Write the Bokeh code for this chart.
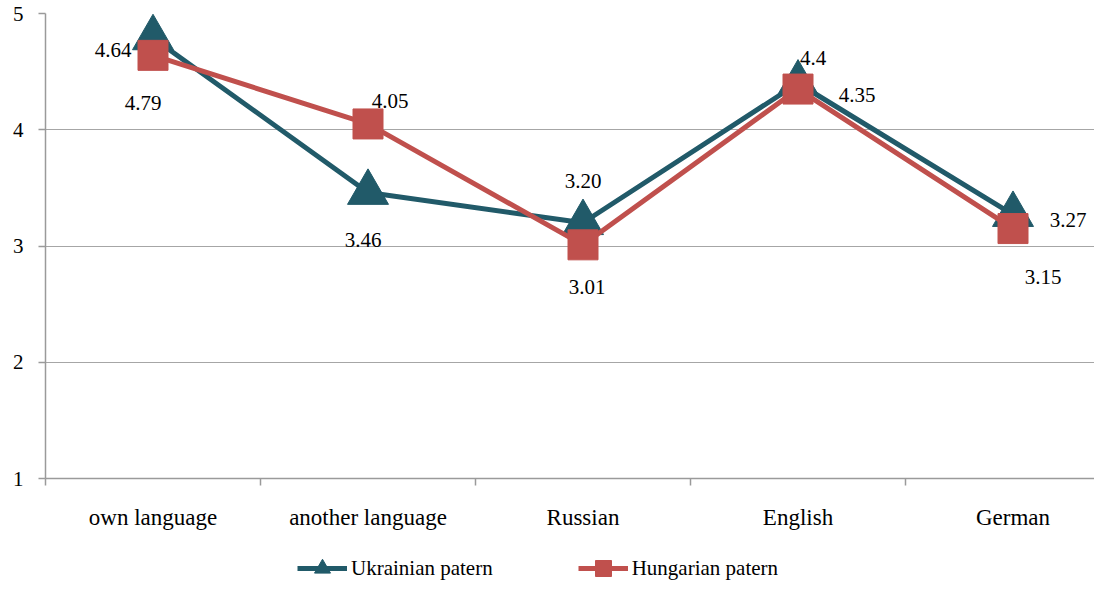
from bokeh.plotting import figure
from bokeh.models import (Range1d, FixedTicker, Legend, LegendItem, ColumnDataSource)
from bokeh.layouts import column
from bokeh.core.properties import value
from bokeh.embed import file_html
from bokeh.resources import INLINE

# ---- data ----
categories = ["own language", "another language", "Russian", "English", "German"]
ukrainian = [4.79, 3.46, 3.20, 4.4, 3.27]
hungarian = [4.64, 4.05, 3.01, 4.35, 3.15]
ukrainian_labels = ["4.79", "3.46", "3.20", "4.4", "3.27"]
hungarian_labels = ["4.64", "4.05", "3.01", "4.35", "3.15"]
y_ticks = [1, 2, 3, 4, 5]
series_names = ["Ukrainian patern", "Hungarian patern"]

# ---- styles ----
FONT = "Liberation Serif"
TEAL = "#215a69"
RED = "#c0504d"
GRID = "#a6a6a6"
AXIS = "#9a9a9a"
# label offsets in screen pixels (dx, dy) relative to each point
u_dx = [-10, -5, 0, 15, 55]
u_dy = [65, 47, -42, -25, 5]
h_dx = [-40, 22, 4, 59, 30]
h_dy = [-5, -23, 42, 6, 48]

xs = list(range(len(categories)))

p = figure(width=1094, height=532, output_backend="svg", toolbar_location=None,
           x_range=Range1d(-0.5, 4.379), y_range=Range1d(1, 5),
           min_border_left=45, min_border_right=0, min_border_top=13,
           min_border_bottom=50)
p.outline_line_color = None
p.background_fill_color = "white"
p.border_fill_color = "white"

# x axis: labels at category centres, tick marks at category boundaries
xt = FixedTicker(ticks=xs, minor_ticks=[i - 0.5 for i in range(len(categories) + 1)])
xa = p.xaxis[0]
xa.ticker = xt
xa.major_label_overrides = {i: c for i, c in enumerate(categories)}
xa.major_tick_out = 0
xa.major_tick_in = 0
xa.minor_tick_out = 7
xa.minor_tick_in = 0
xa.minor_tick_line_color = AXIS
xa.minor_tick_line_width = 1.5
xa.axis_line_color = AXIS
xa.axis_line_width = 1.5
xa.major_label_text_font = FONT
xa.major_label_text_font_size = "23px"
xa.major_label_text_color = "black"
xa.major_label_standoff = 19

ya = p.yaxis[0]
ya.ticker = FixedTicker(ticks=y_ticks, minor_ticks=[])
ya.major_tick_out = 7
ya.major_tick_in = 0
ya.minor_tick_out = 0
ya.minor_tick_in = 0
ya.major_tick_line_color = AXIS
ya.major_tick_line_width = 1.5
ya.axis_line_color = AXIS
ya.axis_line_width = 1.5
ya.major_label_text_font = FONT
ya.major_label_text_font_size = "21px"
ya.major_label_text_color = "black"
ya.major_label_standoff = 15

p.xgrid.visible = False
p.ygrid.grid_line_color = GRID
p.ygrid.grid_line_width = 1

# ---- series ----
line_style = dict(line_width=5)
u_line = p.line(xs, ukrainian, line_color=TEAL, **line_style)
u_mark = p.scatter(xs, ukrainian, marker="triangle", size=41, fill_color=TEAL,
                   line_color=TEAL)
h_line = p.line(xs, hungarian, line_color=RED, **line_style)
h_mark = p.scatter(xs, hungarian, marker="square", size=30, fill_color=RED,
                   line_color=RED)

# ---- data labels ----
for vals, labs, dx, dy in [(ukrainian, ukrainian_labels, u_dx, u_dy),
                           (hungarian, hungarian_labels, h_dx, h_dy)]:
    src = ColumnDataSource(dict(x=xs, y=vals, t=labs, dx=dx, dy=dy))
    p.text(x="x", y="y", text="t", x_offset="dx", y_offset="dy", source=src,
           text_font=value(FONT), text_font_size="21px", text_color="black",
           text_align="center", text_baseline="middle")

# ---- legend strip (separate figure below the chart) ----
# series are re-plotted here outside the visible range, only to feed the legend
lf = figure(width=1094, height=52, output_backend="svg", toolbar_location=None,
            x_range=Range1d(0, 1), y_range=Range1d(-1, 0),
            x_axis_type=None, y_axis_type=None,
            min_border_left=0, min_border_right=0, min_border_top=0,
            min_border_bottom=0)
lf.outline_line_color = None
lf.xgrid.visible = False
lf.ygrid.visible = False
lf.background_fill_color = "white"
lf.border_fill_color = "white"

lu_line = lf.line(xs, ukrainian, line_color=TEAL, **line_style)
lu_mark = lf.scatter(xs, ukrainian, marker="triangle", fill_color=TEAL, line_color=TEAL)
lh_line = lf.line(xs, hungarian, line_color=RED, **line_style)
lh_mark = lf.scatter(xs, hungarian, marker="square", fill_color=RED, line_color=RED)

legend = Legend(items=[LegendItem(label=series_names[0], renderers=[lu_line, lu_mark]),
                       LegendItem(label=series_names[1], renderers=[lh_line, lh_mark])],
                location=(252, -4), orientation="horizontal",
                glyph_width=50, glyph_height=40, label_standoff=4,
                padding=0, margin=0, spacing=85,
                border_line_color=None, background_fill_alpha=0,
                label_text_font=FONT, label_text_font_size="21px",
                label_text_color="black")
lf.add_layout(legend, "center")

layout = column(p, lf, spacing=0)
open("out.html", "w").write(file_html(layout, INLINE))
